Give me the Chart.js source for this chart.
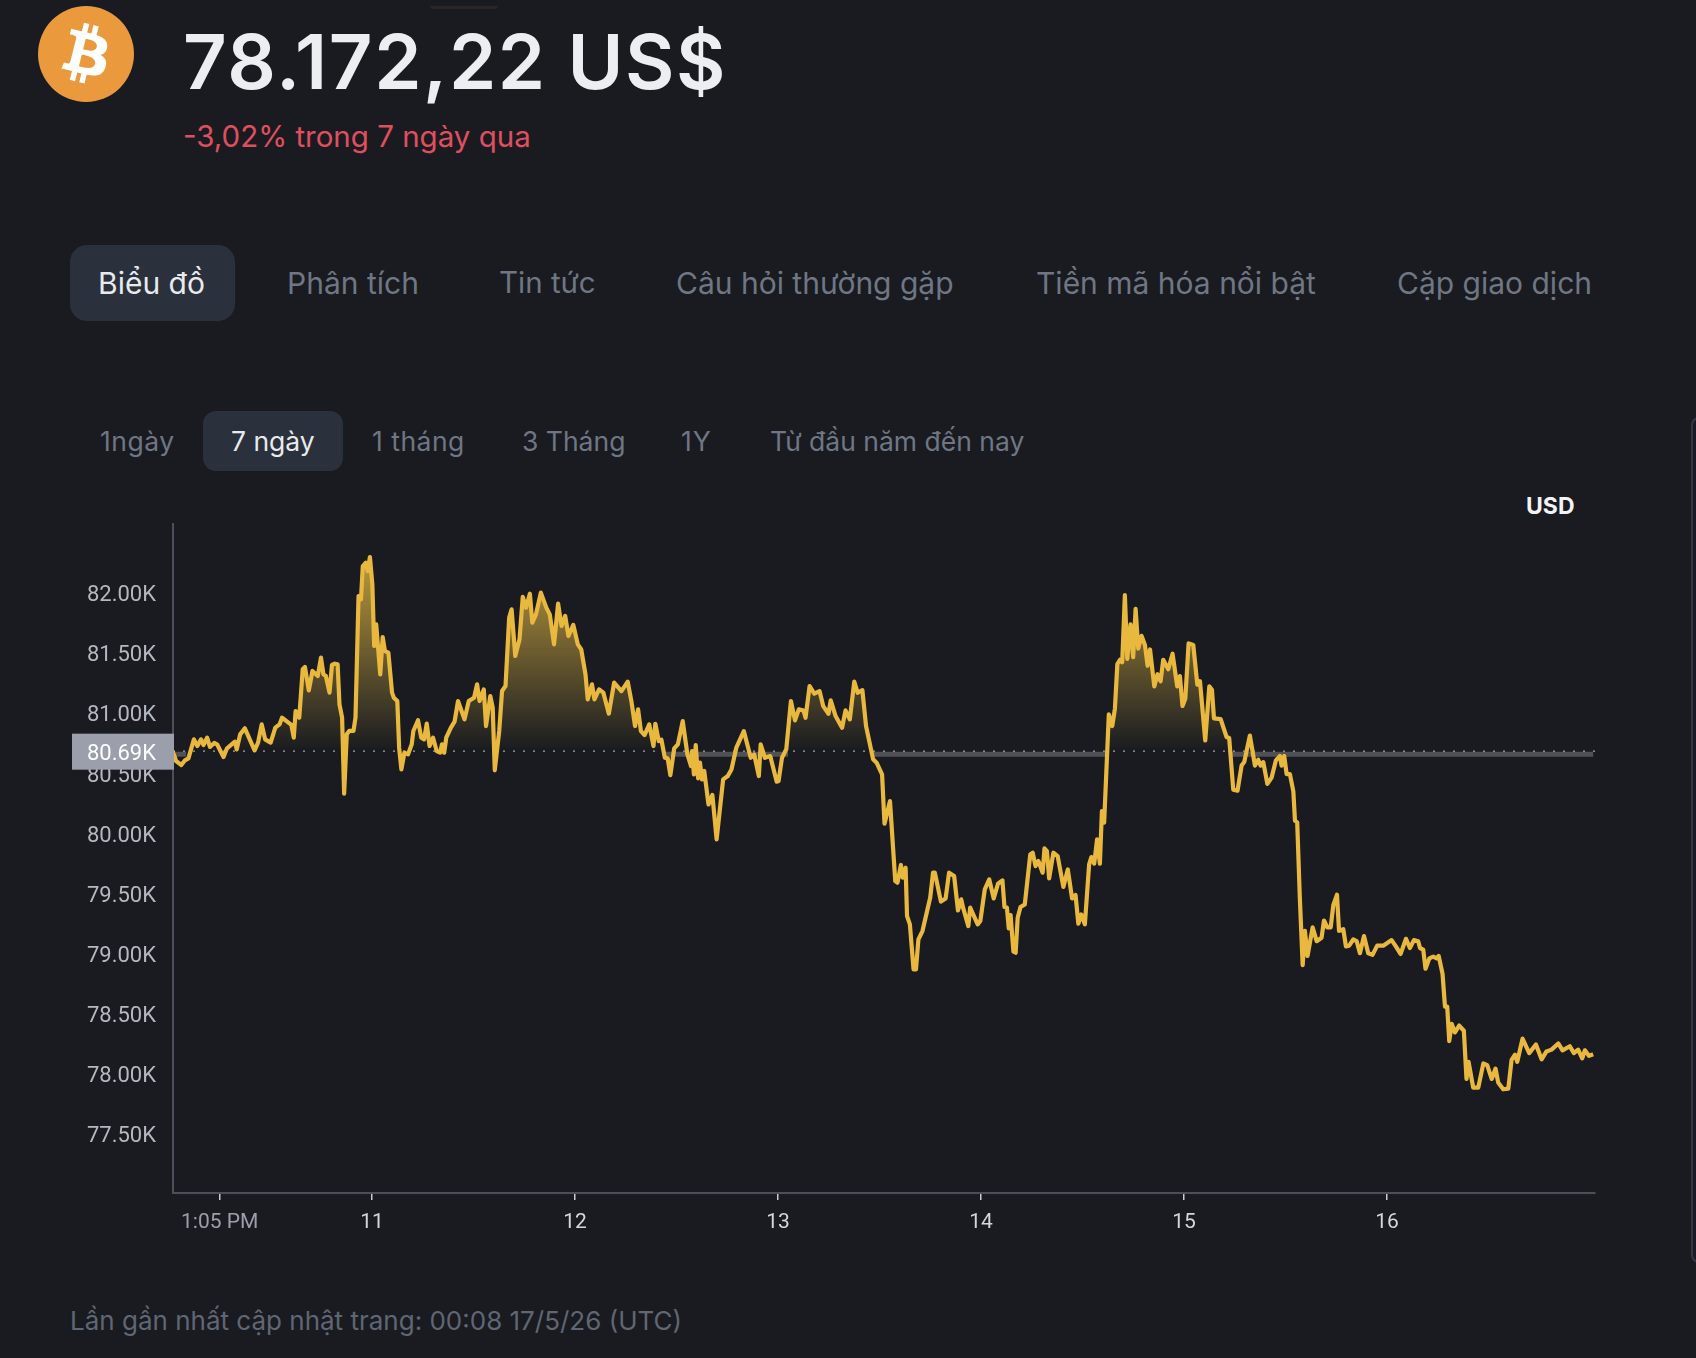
<!DOCTYPE html>
<html lang="vi">
<head>
<meta charset="utf-8">
<title>Bitcoin 7 ngày</title>
<script src="https://cdn.jsdelivr.net/npm/chart.js@4"></script>
<style>
    html, body { margin: 0; padding: 0; background: #191b20; }
    body { position: relative; width: 1696px; height: 1358px; overflow: hidden; font-family: "Inter", "Noto Sans", sans-serif; }
    canvas { position: absolute; left: 0; top: 1px; }
    .t { position: absolute; white-space: nowrap; line-height: 1; }
    .tab { font-size: 30px; color: #6f7684; top: 268px; }
    .range { font-size: 26.5px; color: #6f7684; top: 428px; }
    .pill { position: absolute; background: #2a303c; }
</style>
</head>
<body>
<div style="position:absolute;left:430px;top:6px;width:68px;height:3px;background:#2a2722;border-radius:0 0 6px 6px"></div>
<svg style="position:absolute;left:38px;top:6px" width="96" height="96" viewBox="0 0 64 64">
    <circle cx="32" cy="32" r="32" fill="#ea9a3d"/>
    <path fill="#fff" d="M46.11 27.441c.636-4.258-2.606-6.547-7.039-8.074l1.438-5.768-3.512-.875-1.4 5.616c-.922-.23-1.87-.447-2.812-.662l1.41-5.653-3.509-.875-1.439 5.766c-.764-.174-1.514-.346-2.242-.527l.004-.018-4.842-1.209-.934 3.75s2.605.597 2.55.634c1.422.355 1.68 1.296 1.636 2.042l-1.638 6.571c.098.025.225.061.365.117l-.37-.092-2.297 9.205c-.174.432-.615 1.08-1.609.834.035.051-2.552-.637-2.552-.637l-1.743 4.02 4.57 1.139c.85.213 1.683.436 2.502.646l-1.453 5.835 3.507.875 1.44-5.772c.957.26 1.887.5 2.797.726L27.504 50.8l3.511.875 1.453-5.823c5.987 1.133 10.49.676 12.383-4.738 1.527-4.36-.075-6.875-3.225-8.516 2.294-.531 4.022-2.04 4.483-5.157zM38.087 38.69c-1.086 4.36-8.426 2.004-10.807 1.412l1.928-7.729c2.38.594 10.011 1.77 8.88 6.317zm1.085-11.312c-.99 3.966-7.1 1.951-9.083 1.457l1.748-7.01c1.983.494 8.367 1.416 7.335 5.553z"/>
</svg>
<div class="t" style="left:183px;top:23px;font-size:76px;font-weight:600;color:#eceef2;letter-spacing:1.6px">78.172,22 US$</div>
<div class="t" style="left:183px;top:122px;font-size:29.5px;color:#e04f5f">-3,02% trong 7 ngày qua</div>

<div class="pill" style="left:70px;top:245px;width:165px;height:76px;border-radius:17px"></div>
<div class="t tab" style="left:98px;color:#e8eaee">Biểu đồ</div>
<div class="t tab" style="left:287px">Phân tích</div>
<div class="t tab" style="left:499px;font-size:29.5px">Tin tức</div>
<div class="t tab" style="left:676px">Câu hỏi thường gặp</div>
<div class="t tab" style="left:1036px">Tiền mã hóa nổi bật</div>
<div class="t tab" style="left:1397px">Cặp giao dịch</div>

<div class="pill" style="left:203px;top:411px;width:140px;height:60px;border-radius:13px"></div>
<div class="t range" style="left:100px;letter-spacing:0.5px">1ngày</div>
<div class="t range" style="left:231px;color:#e8eaee">7 ngày</div>
<div class="t range" style="left:372px;letter-spacing:0.5px">1 tháng</div>
<div class="t range" style="left:522px">3 Tháng</div>
<div class="t range" style="left:681px;letter-spacing:1px">1Y</div>
<div class="t range" style="left:770px">Từ đầu năm đến nay</div>

<div class="t" style="left:1526px;top:495px;font-size:23px;font-weight:700;color:#f2f3f5">USD</div>
<div class="t" style="left:70px;top:1308px;font-size:26px;color:#5f6674">Lần gần nhất cập nhật trang: 00:08 17/5/26 (UTC)</div>
<div style="position:absolute;left:1691px;top:417px;width:8px;height:846px;border:2px solid #323844;border-right:none;border-radius:9px 0 0 9px;box-sizing:border-box"></div>

<canvas id="priceChart" width="1696" height="1358"></canvas>

<script>
// Price trace. Days are days of May 2026
const priceDays = [
    10.019,10.035,10.061,10.079,10.096,10.123,10.140,10.158,10.170,10.188,10.202,10.223,10.237,10.269,10.286,10.325,10.334,10.351,10.374,10.422,
    10.439,10.457,10.474,10.501,10.524,10.545,10.557,10.603,10.615,10.624,10.642,10.659,10.670,10.689,10.707,10.733,10.749,10.761,10.773,10.791,
    10.803,10.817,10.831,10.840,10.853,10.863,10.876,10.888,10.909,10.919,10.934,10.946,10.955,10.970,10.979,10.990,11.002,11.011,11.021,11.041,
    11.053,11.064,11.081,11.099,11.108,11.125,11.134,11.145,11.160,11.178,11.196,11.204,11.227,11.243,11.257,11.270,11.284,11.301,11.319,11.336,
    11.345,11.356,11.366,11.389,11.407,11.424,11.456,11.477,11.503,11.518,11.530,11.551,11.562,11.583,11.595,11.605,11.627,11.641,11.658,11.676,
    11.688,11.706,11.727,11.743,11.759,11.778,11.790,11.808,11.832,11.859,11.876,11.897,11.917,11.934,11.952,11.968,11.992,12.014,12.031,12.052,
    12.063,12.084,12.096,12.119,12.140,12.167,12.193,12.229,12.260,12.278,12.296,12.311,12.325,12.343,12.366,12.387,12.396,12.413,12.426,12.443,
    12.457,12.470,12.489,12.507,12.531,12.554,12.572,12.577,12.586,12.595,12.607,12.616,12.626,12.637,12.658,12.677,12.698,12.730,12.753,12.771,
    12.795,12.832,12.866,12.883,12.906,12.915,12.936,12.962,12.994,13.003,13.020,13.041,13.064,13.084,13.103,13.126,13.136,13.156,13.179,13.205,
    13.223,13.249,13.260,13.284,13.316,13.333,13.354,13.376,13.393,13.416,13.434,13.469,13.486,13.513,13.525,13.552,13.578,13.589,13.606,13.615,
    13.629,13.636,13.650,13.668,13.680,13.692,13.712,13.750,13.764,13.773,13.803,13.826,13.843,13.868,13.887,13.903,13.912,13.938,13.947,13.984,
    13.997,14.019,14.041,14.063,14.084,14.106,14.116,14.128,14.137,14.146,14.160,14.171,14.181,14.195,14.216,14.243,14.255,14.269,14.283,14.304,
    14.313,14.325,14.336,14.357,14.378,14.406,14.428,14.449,14.466,14.480,14.494,14.512,14.533,14.544,14.558,14.572,14.586,14.596,14.607,14.630,
    14.647,14.660,14.672,14.685,14.696,14.709,14.721,14.737,14.750,14.762,14.775,14.791,14.808,14.821,14.833,14.854,14.870,14.885,14.898,14.923,
    14.944,14.967,14.980,14.993,15.007,15.023,15.046,15.066,15.079,15.105,15.125,15.138,15.148,15.181,15.210,15.223,15.243,15.264,15.284,15.297,
    15.325,15.350,15.366,15.378,15.391,15.402,15.411,15.432,15.453,15.473,15.481,15.494,15.506,15.522,15.539,15.547,15.558,15.571,15.585,15.596,
    15.609,15.634,15.654,15.678,15.690,15.706,15.723,15.736,15.754,15.764,15.785,15.798,15.814,15.834,15.851,15.867,15.887,15.908,15.929,15.952,
    15.982,16.023,16.044,16.067,16.094,16.113,16.133,16.154,16.163,16.179,16.190,16.209,16.228,16.245,16.255,16.274,16.286,16.297,16.307,16.319,
    16.335,16.356,16.379,16.392,16.402,16.425,16.450,16.475,16.494,16.516,16.535,16.548,16.573,16.598,16.614,16.631,16.642,16.668,16.701,16.734,
    16.762,16.786,16.811,16.844,16.865,16.901,16.921,16.942,16.962,16.975,16.995,17.016
];
const priceValues = [
    80691,80608,80575,80614,80630,80788,80733,80788,80741,80802,80725,80758,80747,80642,80714,80769,80705,80830,80880,80697,
    80761,80913,80788,80761,80886,80913,80969,80908,80802,81024,80969,81371,81390,81196,81357,81315,81468,81329,81315,81177,
    81407,81418,81412,81080,80969,80336,80830,80858,80858,80969,81981,81953,82230,82258,82189,82305,82078,81565,81745,81329,
    81640,81523,81510,81177,81135,81107,80719,80539,80678,80664,80747,80858,80947,80802,80788,80919,80733,80802,80691,80678,
    80747,80678,80802,80886,80935,81107,80955,81107,81135,81246,81107,81204,80899,81149,81052,80531,80858,81191,81232,81801,
    81870,81482,81620,81973,81884,82000,81759,81828,82009,81884,81828,81579,81917,81731,81815,81648,81740,81579,81537,81329,
    81121,81246,81121,81204,81177,81002,81260,81190,81268,81107,80899,81038,80857,80824,80913,80733,80918,80774,80785,80635,
    80630,80491,80713,80746,80940,80663,80566,80691,80497,80741,80464,80594,80455,80525,80247,80325,79956,80455,80483,80538,
    80719,80857,80635,80663,80483,80746,80635,80649,80436,80441,80635,80705,81107,80946,81038,81029,80968,81232,81168,81190,
    81065,81001,81112,80982,80885,81029,80954,81268,81176,81198,80899,80622,80594,80497,80086,80275,79609,79596,79743,79637,
    79720,79318,79249,78875,78875,79124,79193,79471,79679,79679,79438,79465,79679,79651,79365,79457,79388,79235,79388,79249,
    79277,79540,79623,79465,79587,79615,79393,79388,79216,79327,79022,79013,79304,79393,79415,79831,79845,79734,79776,79679,
    79881,79859,79632,79845,79817,79560,79706,79465,79493,79254,79332,79249,79748,79809,79754,79956,79754,80192,80095,80996,
    80899,81043,81415,81450,81430,81988,81458,81745,81473,81874,81544,81650,81573,81401,81536,81229,81330,81272,81450,81372,
    81501,81229,81315,81066,81129,81587,81573,81244,81272,80779,81229,81201,80963,80957,80808,80799,80370,80361,80570,80599,
    80820,80570,80619,80570,80599,80499,80418,80470,80613,80650,80570,80650,80499,80499,80355,80112,80098,79467,78909,79195,
    78986,79224,79109,79138,79281,79224,79224,79410,79496,79195,79209,79066,79072,79123,79109,79009,79152,79009,78995,79072,
    79072,79118,79066,79003,79129,79052,79118,79109,79052,79038,78880,78966,78980,78966,78986,78837,78565,78565,78278,78422,
    78350,78407,78364,77963,78106,77891,77891,78092,78078,77963,78049,77934,77877,77883,78121,78164,78106,78298,78178,78250,
    78126,78192,78207,78258,78201,78235,78178,78207,78135,78201,78155,78169
];

const baselineValue = 80690;
const baselineLabel = '80.69K';
const baselineDays = [10.02, 17.025];
const baselineValues = [baselineValue, baselineValue];

// Grey band under the dotted line, only where the price stays below it
const bandDays = [10.035, 10.085, null, 12.44, 13.05, null, 13.47, 14.62, null, 15.225, 17.016];
const bandValues = [80665, 80665, null, 80665, 80665, null, 80665, 80665, null, 80665, 80665];

const yTickValues = [77500, 78000, 78500, 79000, 79500, 80000, 80500, 81000, 81500, 82000];
const xTickDays = [10.25, 11, 12, 13, 14, 15, 16];
const xTickLabels = ['1:05 PM', '11', '12', '13', '14', '15', '16'];

function toPoints(xs, ys) {
    return xs.map((x, i) => ({ x: x, y: ys[i] }));
}

// Tag with the reference price, on top of the y axis labels
const baselineTagPlugin = {
    id: 'baselineTag',
    afterDraw(chart) {
        const ctx = chart.ctx;
        const y = chart.scales.y.getPixelForValue(baselineValue);
        ctx.save();
        ctx.fillStyle = '#9a9fab';
        ctx.fillRect(72, y - 17.5, 102, 36);
        ctx.fillStyle = '#ffffff';
        ctx.font = '22px Roboto';
        ctx.textAlign = 'right';
        ctx.textBaseline = 'middle';
        ctx.fillText(baselineLabel, 156, y + 3);
        ctx.restore();
    }
};

const chart = new Chart(document.getElementById('priceChart'), {
    type: 'line',
    data: {
        datasets: [
            {
                data: toPoints(bandDays, bandValues),
                borderColor: '#505157',
                borderWidth: 5,
                pointRadius: 0,
                order: 3
            },
            {
                data: toPoints(baselineDays, baselineValues),
                borderColor: '#a4a6ac',
                borderWidth: 1.3,
                borderDash: [2, 8],
                pointRadius: 0,
                order: 2
            },
            {
                data: toPoints(priceDays, priceValues),
                borderColor: '#e9b93f',
                borderWidth: 4.2,
                borderJoinStyle: 'round',
                pointRadius: 0,
                tension: 0,
                fill: { target: { value: baselineValue }, above: 'transparent', below: 'transparent' },
                order: 1
            }
        ]
    },
    options: {
        responsive: false,
        animation: false,
        devicePixelRatio: 1,
        layout: { padding: { top: 523, right: 101, bottom: 100, left: 0 } },
        plugins: { legend: { display: false }, tooltip: { enabled: false } },
        scales: {
            x: {
                type: 'linear',
                min: 10.02,
                max: 17.025,
                afterFit(scale) { scale.height = 66; },
                afterBuildTicks(scale) { scale.ticks = xTickDays.map(v => ({ value: v })); },
                border: { color: '#4a4f59', width: 2 },
                grid: { drawOnChartArea: false, drawTicks: true, tickLength: 7, color: '#c9ccd2', lineWidth: 1.5 },
                ticks: {
                    autoSkip: false,
                    maxRotation: 0,
                    padding: 10,
                    font: { family: 'Roboto', size: 21 },
                    color: ctx => (ctx.index === 0 ? '#9aa0ab' : '#d3d6db'),
                    callback: (value, index) => xTickLabels[index]
                }
            },
            y: {
                min: 77014,
                max: 82580,
                afterFit(scale) { scale.width = 173; },
                afterBuildTicks(scale) { scale.ticks = yTickValues.map(v => ({ value: v })); },
                border: { color: '#4a4f59', width: 2 },
                grid: { display: false, drawTicks: false },
                ticks: {
                    padding: 17,
                    labelOffset: 2,
                    font: { family: 'Roboto', size: 22 },
                    color: '#b4b8c0',
                    callback: value => (value / 1000).toFixed(2) + 'K'
                }
            }
        }
    },
    plugins: [baselineTagPlugin]
});

// Fill fades from the top of the trace down to the reference price
const yScale = chart.scales.y;
const fillGradient = chart.ctx.createLinearGradient(0, yScale.getPixelForValue(82300), 0, yScale.getPixelForValue(baselineValue));
fillGradient.addColorStop(0, 'rgba(233, 190, 70, 0.78)');
fillGradient.addColorStop(1, 'rgba(233, 190, 70, 0)');
chart.data.datasets[2].fill.above = fillGradient;
chart.update('none');
</script>
</body>
</html>
